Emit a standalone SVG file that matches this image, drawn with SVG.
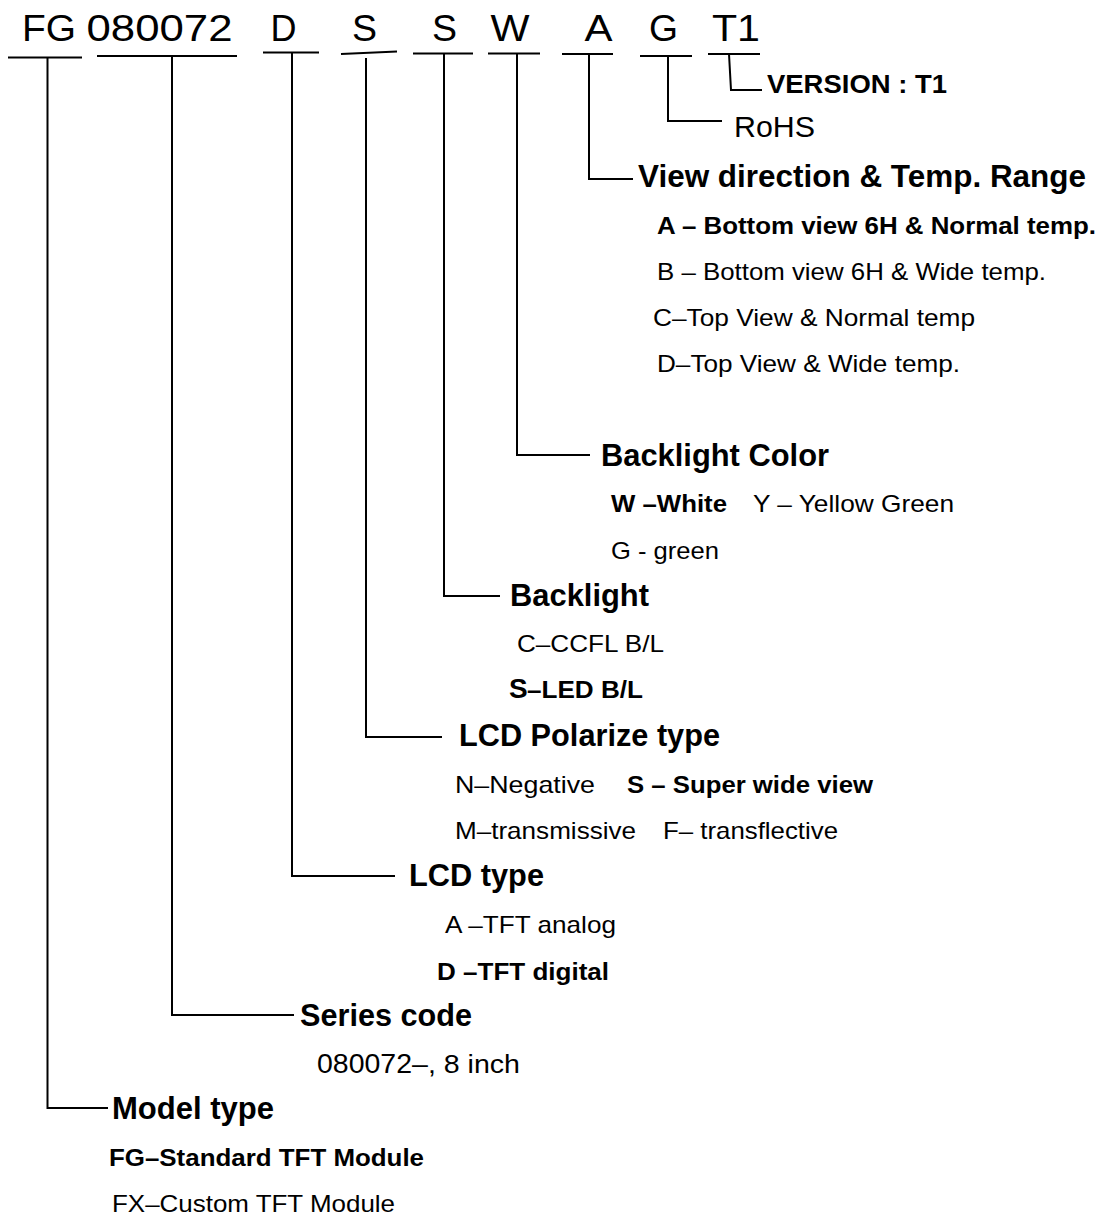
<svg xmlns="http://www.w3.org/2000/svg" width="1103" height="1217" viewBox="0 0 1103 1217">
<style>
text{font-family:"Liberation Sans",Arial,sans-serif;fill:#000}
.code{font-size:36px;text-anchor:middle}
.h{font-size:32px;font-weight:bold}
.o{font-size:24px}
.ob{font-size:24px;font-weight:bold}
.ln{stroke:#000;stroke-width:2;fill:none}
</style>
<rect width="1103" height="1217" fill="#fff"/>
<g id="code">
<text class="code" x="49" y="41" textLength="54" lengthAdjust="spacingAndGlyphs">FG</text>
<text class="code" x="159.5" y="41" textLength="146" lengthAdjust="spacingAndGlyphs">080072</text>
<text class="code" x="283.5" y="41" textLength="26" lengthAdjust="spacingAndGlyphs">D</text>
<text class="code" x="364.5" y="41" textLength="25" lengthAdjust="spacingAndGlyphs">S</text>
<text class="code" x="444.5" y="41" textLength="25" lengthAdjust="spacingAndGlyphs">S</text>
<text class="code" x="510" y="41" textLength="39" lengthAdjust="spacingAndGlyphs">W</text>
<text class="code" x="598.5" y="41" textLength="28" lengthAdjust="spacingAndGlyphs">A</text>
<text class="code" x="663.5" y="41" textLength="29" lengthAdjust="spacingAndGlyphs">G</text>
<text class="code" x="736" y="41" textLength="48" lengthAdjust="spacingAndGlyphs">T1</text>
</g>
<g id="connectors">
<path class="ln" d="M8,57.5H82M47.5,57.5V1108H108"/>
<path class="ln" d="M97,56H237M172,56V1015H294"/>
<path class="ln" d="M263,52.5H319M292,52.5V876H395"/>
<path class="ln" d="M341,54L397,51.5M366,58V737H442"/>
<path class="ln" d="M413,53.5H473M444,53.5V596H500"/>
<path class="ln" d="M488,53.5H540M517,53.5V455H590"/>
<path class="ln" d="M562,54H613M589,54V179H633"/>
<path class="ln" d="M640,56H692M668,56V121H722"/>
<path class="ln" d="M708,54H760M729,54L731,90H762"/>
</g>
<g id="version">
<text class="ob" x="767" y="93" style="font-size:25px" textLength="180" lengthAdjust="spacingAndGlyphs">VERSION : T1</text>
</g>
<g id="rohs">
<text class="o" x="734" y="137" style="font-size:29px" textLength="81" lengthAdjust="spacingAndGlyphs">RoHS</text>
</g>
<g id="view">
<text class="h" x="638" y="187" textLength="448" lengthAdjust="spacingAndGlyphs">View direction &amp; Temp. Range</text>
<text class="ob" x="657" y="234" textLength="439" lengthAdjust="spacingAndGlyphs">A – Bottom view 6H &amp; Normal temp.</text>
<text class="o" x="657" y="280" textLength="389" lengthAdjust="spacingAndGlyphs">B – Bottom view 6H &amp; Wide temp.</text>
<text class="o" x="653" y="326" textLength="322" lengthAdjust="spacingAndGlyphs">C–Top View &amp; Normal temp</text>
<text class="o" x="657" y="372" textLength="303" lengthAdjust="spacingAndGlyphs">D–Top View &amp; Wide temp.</text>
</g>
<g id="blcolor">
<text class="h" x="601" y="466" textLength="228" lengthAdjust="spacingAndGlyphs">Backlight Color</text>
<text class="ob" x="611" y="512" textLength="116" lengthAdjust="spacingAndGlyphs">W –White</text>
<text class="o" x="753" y="512" textLength="201" lengthAdjust="spacingAndGlyphs">Y – Yellow Green</text>
<text class="o" x="611" y="559" textLength="108" lengthAdjust="spacingAndGlyphs">G - green</text>
</g>
<g id="backlight">
<text class="h" x="510" y="606" textLength="139" lengthAdjust="spacingAndGlyphs">Backlight</text>
<text class="o" x="517" y="652" textLength="147" lengthAdjust="spacingAndGlyphs">C–CCFL B/L</text>
<text class="ob" x="509" y="698" style="font-size:28px">S</text>
<text class="ob" x="527" y="698" style="font-size:23px" textLength="116" lengthAdjust="spacingAndGlyphs">–LED B/L</text>
</g>
<g id="polarize">
<text class="h" x="459" y="746" textLength="261" lengthAdjust="spacingAndGlyphs">LCD Polarize type</text>
<text class="o" x="455" y="793" textLength="140" lengthAdjust="spacingAndGlyphs">N–Negative</text>
<text class="ob" x="627" y="793" textLength="246" lengthAdjust="spacingAndGlyphs">S – Super wide view</text>
<text class="o" x="455" y="839" textLength="181" lengthAdjust="spacingAndGlyphs">M–transmissive</text>
<text class="o" x="663" y="839" textLength="175" lengthAdjust="spacingAndGlyphs">F– transflective</text>
</g>
<g id="lcdtype">
<text class="h" x="409" y="886" textLength="135" lengthAdjust="spacingAndGlyphs">LCD type</text>
<text class="o" x="445" y="933" textLength="171" lengthAdjust="spacingAndGlyphs">A –TFT analog</text>
<text class="ob" x="437" y="980" textLength="172" lengthAdjust="spacingAndGlyphs">D –TFT digital</text>
</g>
<g id="series">
<text class="h" x="300" y="1026" textLength="172" lengthAdjust="spacingAndGlyphs">Series code</text>
<text class="o" x="317" y="1073" style="font-size:28px" textLength="95" lengthAdjust="spacingAndGlyphs">080072</text>
<text class="o" x="412" y="1073" style="font-size:25px" textLength="108" lengthAdjust="spacingAndGlyphs">–, 8 inch</text>
</g>
<g id="model">
<text class="h" x="112" y="1119" textLength="162" lengthAdjust="spacingAndGlyphs">Model type</text>
<text class="ob" x="109" y="1166" textLength="315" lengthAdjust="spacingAndGlyphs">FG–Standard TFT Module</text>
<text class="o" x="112" y="1212" textLength="283" lengthAdjust="spacingAndGlyphs">FX–Custom TFT Module</text>
</g>
</svg>
